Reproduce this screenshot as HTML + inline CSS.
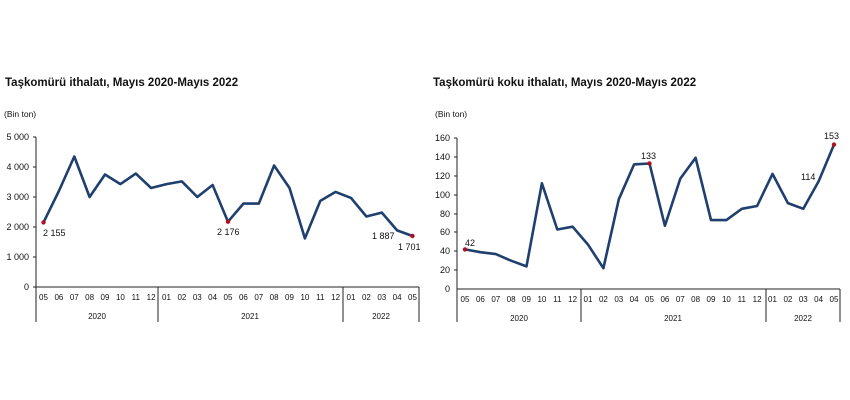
<!DOCTYPE html>
<html><head><meta charset="utf-8"><style>body{margin:0;background:#fff}svg{display:block;font-family:"Liberation Sans",Arial,sans-serif}</style></head><body>
<svg width="850" height="400" viewBox="0 0 850 400">
<rect width="850" height="400" fill="#fff"/>
<g fill="#111">
<text x="5" y="86" font-size="11.5" font-weight="bold">Taşkomürü ithalatı, Mayıs 2020-Mayıs 2022</text>
<text x="433" y="86" font-size="11.5" font-weight="bold">Taşkomürü koku ithalatı, Mayıs 2020-Mayıs 2022</text>
<text x="4" y="117" font-size="8.5">(Bin ton)</text>
<text x="435" y="117" font-size="8.5">(Bin ton)</text>
</g>
<!-- left axes -->
<g stroke="#222" stroke-width="1" fill="none">
<line x1="36" y1="137" x2="36" y2="322"/>
<line x1="36" y1="287" x2="419" y2="287"/>
<line x1="158" y1="287" x2="158" y2="322"/>
<line x1="343" y1="287" x2="343" y2="322"/>
<line x1="419" y1="287" x2="419" y2="322"/>
<line x1="33" y1="137" x2="36" y2="137"/><line x1="33" y1="167" x2="36" y2="167"/><line x1="33" y1="197" x2="36" y2="197"/><line x1="33" y1="227" x2="36" y2="227"/><line x1="33" y1="257" x2="36" y2="257"/><line x1="33" y1="287" x2="36" y2="287"/>
</g>
<g font-size="9" fill="#111" text-anchor="end">
<text x="29" y="140">5 000</text><text x="29" y="170">4 000</text><text x="29" y="200">3 000</text><text x="29" y="230">2 000</text><text x="29" y="260">1 000</text><text x="29" y="290">0</text>
</g>
<g font-size="8" fill="#111" text-anchor="middle">
<text x="43.5" y="300">05</text><text x="58.9" y="300">06</text><text x="74.3" y="300">07</text><text x="89.6" y="300">08</text><text x="105" y="300">09</text><text x="120.4" y="300">10</text><text x="135.8" y="300">11</text><text x="151.1" y="300">12</text><text x="166.5" y="300">01</text><text x="181.9" y="300">02</text><text x="197.3" y="300">03</text><text x="212.6" y="300">04</text><text x="228" y="300">05</text><text x="243.4" y="300">06</text><text x="258.8" y="300">07</text><text x="274.1" y="300">08</text><text x="289.5" y="300">09</text><text x="304.9" y="300">10</text><text x="320.3" y="300">11</text><text x="335.6" y="300">12</text><text x="351" y="300">01</text><text x="366.4" y="300">02</text><text x="381.8" y="300">03</text><text x="397.1" y="300">04</text><text x="412.5" y="300">05</text>
<text x="97" y="319">2020</text><text x="250" y="319">2021</text><text x="381" y="319">2022</text>
</g>
<polyline fill="none" stroke="#1f3f6e" stroke-width="2.6" stroke-linejoin="round" points="43.5,222.4 58.9,191 74.3,156.5 89.6,197 105,174.5 120.4,184.1 135.8,173.6 151.1,188 166.5,184.1 181.9,181.4 197.3,197 212.6,185 228,221.7 243.4,203.6 258.8,203.6 274.1,165.5 289.5,188 304.9,238.4 320.3,200.9 335.6,191.9 351,197.9 366.4,216.5 381.8,212.6 397.1,230.4 412.5,236"/>
<g fill="#b01020"><circle cx="43.5" cy="222.4" r="2.2"/><circle cx="228" cy="221.7" r="2.2"/><circle cx="412.5" cy="236" r="2.2"/></g>
<g font-size="9" fill="#111">
<text x="43" y="236">2 155</text><text x="217" y="235">2 176</text><text x="372" y="239">1 887</text><text x="398" y="250">1 701</text>
</g>
<!-- right axes -->
<g stroke="#222" stroke-width="1" fill="none">
<line x1="457" y1="138" x2="457" y2="322"/>
<line x1="457" y1="289" x2="840" y2="289"/>
<line x1="581" y1="289" x2="581" y2="322"/>
<line x1="766" y1="289" x2="766" y2="322"/>
<line x1="840" y1="289" x2="840" y2="322"/>
<line x1="454" y1="138" x2="457" y2="138"/><line x1="454" y1="157" x2="457" y2="157"/><line x1="454" y1="176" x2="457" y2="176"/><line x1="454" y1="195" x2="457" y2="195"/><line x1="454" y1="214" x2="457" y2="214"/><line x1="454" y1="232" x2="457" y2="232"/><line x1="454" y1="251" x2="457" y2="251"/><line x1="454" y1="270" x2="457" y2="270"/>
</g>
<g font-size="9" fill="#111" text-anchor="end">
<text x="450" y="141">160</text><text x="450" y="160">140</text><text x="450" y="179">120</text><text x="450" y="198">100</text><text x="450" y="217">80</text><text x="450" y="235">60</text><text x="450" y="254">40</text><text x="450" y="273">20</text><text x="450" y="292">0</text>
</g>
<g font-size="8" fill="#111" text-anchor="middle">
<text x="465" y="302">05</text><text x="480.4" y="302">06</text><text x="495.8" y="302">07</text><text x="511.1" y="302">08</text><text x="526.5" y="302">09</text><text x="541.9" y="302">10</text><text x="557.3" y="302">11</text><text x="572.6" y="302">12</text><text x="588" y="302">01</text><text x="603.4" y="302">02</text><text x="618.8" y="302">03</text><text x="634.1" y="302">04</text><text x="649.5" y="302">05</text><text x="664.9" y="302">06</text><text x="680.3" y="302">07</text><text x="695.6" y="302">08</text><text x="711" y="302">09</text><text x="726.4" y="302">10</text><text x="741.8" y="302">11</text><text x="757.1" y="302">12</text><text x="772.5" y="302">01</text><text x="787.9" y="302">02</text><text x="803.3" y="302">03</text><text x="818.6" y="302">04</text><text x="834" y="302">05</text>
<text x="519" y="321">2020</text><text x="673" y="321">2021</text><text x="803" y="321">2022</text>
</g>
<polyline fill="none" stroke="#1f3f6e" stroke-width="2.6" stroke-linejoin="round" points="465,249.4 480.4,252.2 495.8,254.1 511.1,260.7 526.5,266.4 541.9,183.3 557.3,229.5 572.6,226.7 588,244.6 603.4,268.2 618.8,199.3 634.1,164.4 649.5,163.5 664.9,225.8 680.3,178.6 695.6,157.8 711,220.1 726.4,220.1 741.8,208.8 757.1,206 772.5,173.9 787.9,203.1 803.3,208.8 818.6,181.4 834,144.6"/>
<g fill="#b01020"><circle cx="465" cy="249.4" r="2.2"/><circle cx="649.5" cy="163.5" r="2.2"/><circle cx="834" cy="144.6" r="2.2"/></g>
<g font-size="9" fill="#111">
<text x="465" y="246">42</text><text x="641" y="159">133</text><text x="801" y="180">114</text><text x="824" y="139">153</text>
</g>
</svg>
</body></html>
